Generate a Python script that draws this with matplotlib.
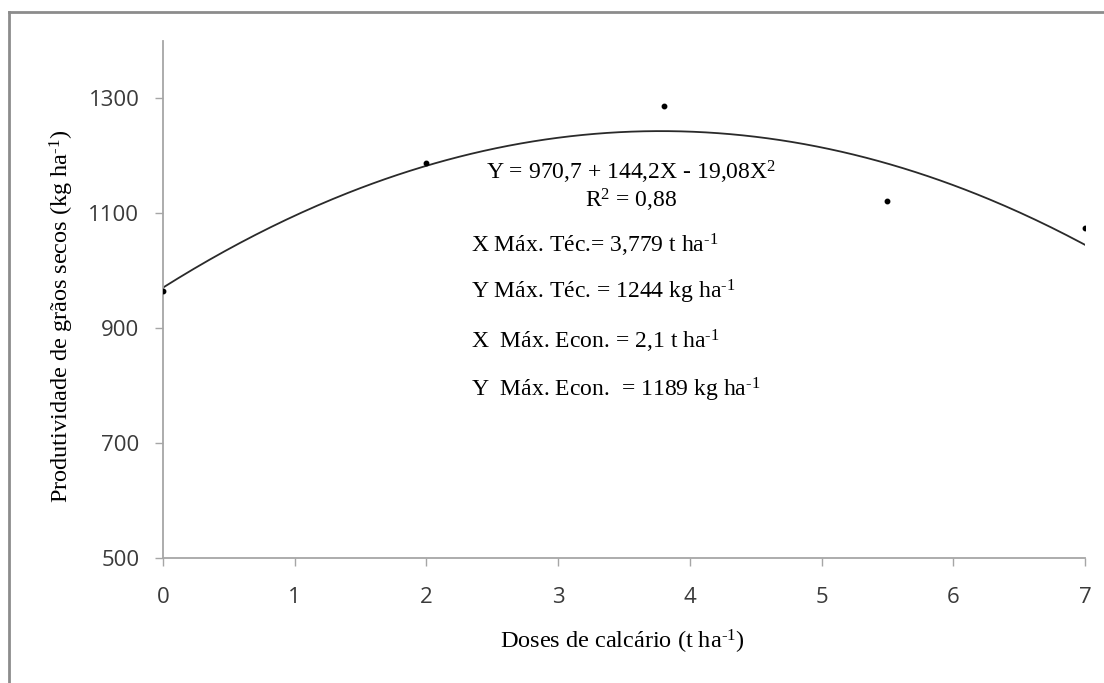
import numpy as np
import matplotlib
matplotlib.use("Agg")
import matplotlib.pyplot as plt
from matplotlib.lines import Line2D

# Data
doses = [0, 2, 3.8, 5.5, 7]
produtividade = [964, 1187, 1286, 1121, 1074]
coef = [970.7, 144.2, -19.08]
x_ticks = [0, 1, 2, 3, 4, 5, 6, 7]
y_ticks = [500, 700, 900, 1100, 1300]

plt.rcParams['mathtext.fontset'] = 'custom'
plt.rcParams['mathtext.rm'] = 'Liberation Serif'
plt.rcParams['mathtext.it'] = 'Liberation Serif:italic'

fig = plt.figure(figsize=(11.04, 6.83), dpi=100)
ax = fig.add_axes([163/1104, 1-558/683, (1085-163)/1104, (558-41)/683])

xs = np.linspace(0, 7, 300)
ys = coef[0] + coef[1]*xs + coef[2]*xs**2
ax.plot(xs, ys, color='#2a2a2a', lw=1.3, zorder=2)
ax.plot(doses, produtividade, 'o', color='black', ms=3.2, zorder=3)

ax.set_xlim(0, 7)
ax.set_ylim(500, 1400)
ax.set_xticks(x_ticks)
ax.set_yticks(y_ticks)
for s in ['top', 'right']:
    ax.spines[s].set_visible(False)
for s in ['left', 'bottom']:
    ax.spines[s].set_color('#a6a6a6')
    ax.spines[s].set_linewidth(1.3)
ax.tick_params(axis='both', colors='#a6a6a6', labelcolor='#3a3a3a',
               length=6, width=1.0, labelsize=16)
ax.tick_params(axis='x', pad=15)
ax.tick_params(axis='y', pad=11)
for lab in ax.get_xticklabels() + ax.get_yticklabels():
    lab.set_fontfamily('Open Sans')

serif = 'Liberation Serif'
sup = lambda s: r'$^{\mathregular{\text{' + s + r'}}}$'
fs_lab = 17.5
fs_ann = 17

fig.text(622/1104, 1-642/683, 'Doses de calcário (t ha' + sup('-1') + ')',
         ha='center', va='center', fontsize=fs_lab, family=serif)
fig.text(62/1104, 1-316/683, 'Produtividade de grãos secos (kg ha' + sup('-1') + ')',
         ha='center', va='center', rotation=90, fontsize=fs_lab, family=serif)

fig.text(631/1104, 1-172/683, 'Y = 970,7 + 144,2X - 19,08X' + sup('2'),
         ha='center', va='center', fontsize=fs_ann, family=serif)
fig.text(631/1104, 1-200/683, 'R' + sup('2') + ' = 0,88',
         ha='center', va='center', fontsize=fs_ann, family=serif)
lines = [
    (245, 'X Máx. Téc.= 3,779 t ha' + sup('-1')),
    (292, 'Y Máx. Téc. = 1244 kg ha' + sup('-1')),
    (341, 'X  Máx. Econ. = 2,1 t ha' + sup('-1')),
    (390, 'Y  Máx. Econ.  = 1189 kg ha' + sup('-1')),
]
for yp, t in lines:
    fig.text(471/1104, 1-yp/683, t, ha='left', va='center', fontsize=fs_ann, family=serif)

# figure frame (left and top edges visible)
fig.add_artist(Line2D([9/1104, 9/1104], [0, 1-12/683], color='#8c8c8c', lw=2,
                      transform=fig.transFigure))
fig.add_artist(Line2D([9/1104, 1], [1-12/683, 1-12/683], color='#8c8c8c', lw=2,
                      transform=fig.transFigure))

fig.savefig('out.png', dpi=100)
